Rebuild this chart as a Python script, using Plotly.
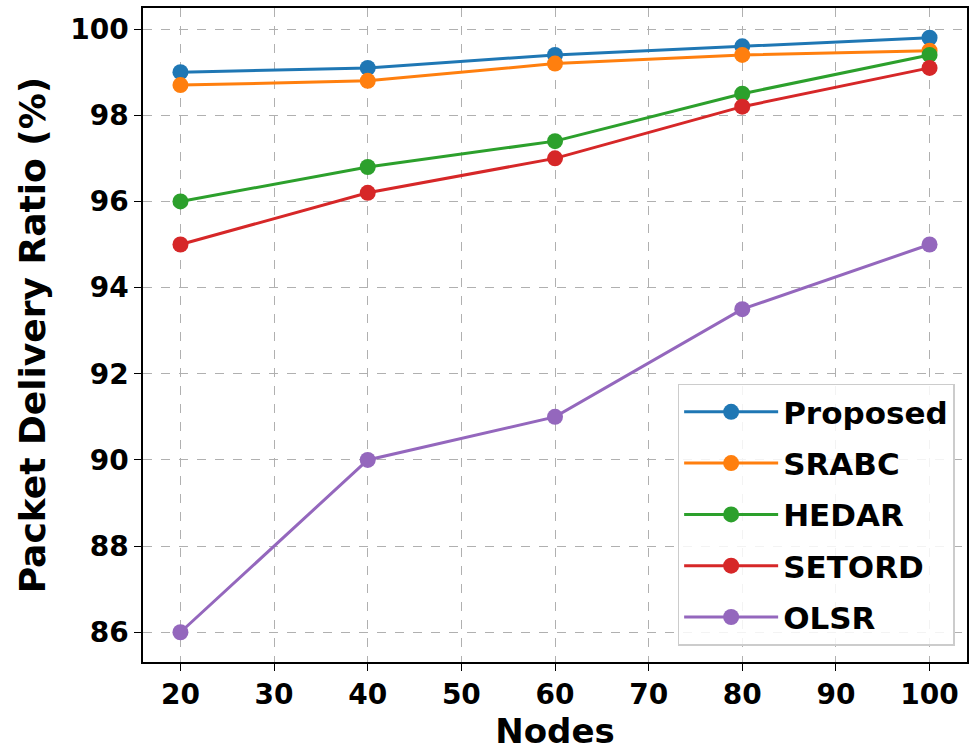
import plotly.graph_objects as go

nodes = [20, 40, 60, 80, 100]
proposed = [99.0, 99.1, 99.4, 99.6, 99.8]
srabc = [98.7, 98.8, 99.2, 99.4, 99.5]
hedar = [96.0, 96.8, 97.4, 98.5, 99.4]
setord = [95.0, 96.2, 97.0, 98.2, 99.1]
olsr = [86.0, 90.0, 91.0, 93.5, 95.0]

series = [("Proposed", proposed, "#1f77b4"),
          ("SRABC", srabc, "#ff7f0e"),
          ("HEDAR", hedar, "#2ca02c"),
          ("SETORD", setord, "#d62728"),
          ("OLSR", olsr, "#9467bd")]

fig = go.Figure()
for name, vals, col in series:
    fig.add_trace(go.Scatter(x=nodes, y=vals, name=name, mode="lines+markers",
                             legendgroup=name,
                             line=dict(color=col, width=3),
                             marker=dict(color=col, size=16)))

font = "DejaVu Sans"
axis_common = dict(showline=True, linecolor="black", linewidth=1.5, mirror=True,
                   ticks="outside", ticklen=7, tickcolor="black",
                   showgrid=True, gridcolor="#b0b0b0", griddash="dash", gridwidth=1,
                   zeroline=False,
                   tickfont=dict(family=font, size=28, color="black", weight="bold"))

fig.update_layout(
    width=971, height=756,
    paper_bgcolor="white", plot_bgcolor="white",
    margin=dict(l=143, r=2, t=8, b=94),
    xaxis=dict(range=[16, 104], tickvals=[20, 30, 40, 50, 60, 70, 80, 90, 100],
               title=dict(text="Nodes", font=dict(family=font, size=34, color="black", weight="bold"),
                          standoff=6),
               **axis_common),
    yaxis=dict(range=[85.31, 100.49], tickvals=[86, 88, 90, 92, 94, 96, 98, 100],
               title=dict(text="Packet Delivery Ratio (%)",
                          font=dict(family=font, size=36, color="black", weight="bold"),
                          standoff=14),
               **axis_common),
    legend=dict(x=0.985, y=0.025, xanchor="right", yanchor="bottom",
                bgcolor="rgba(255,255,255,0.85)", bordercolor="#cccccc", borderwidth=1.5,
                font=dict(family=font, size=31, color="black", weight="bold"),
                itemwidth=94, tracegroupgap=8),
    showlegend=True,
)

fig.write_html("out.html")
